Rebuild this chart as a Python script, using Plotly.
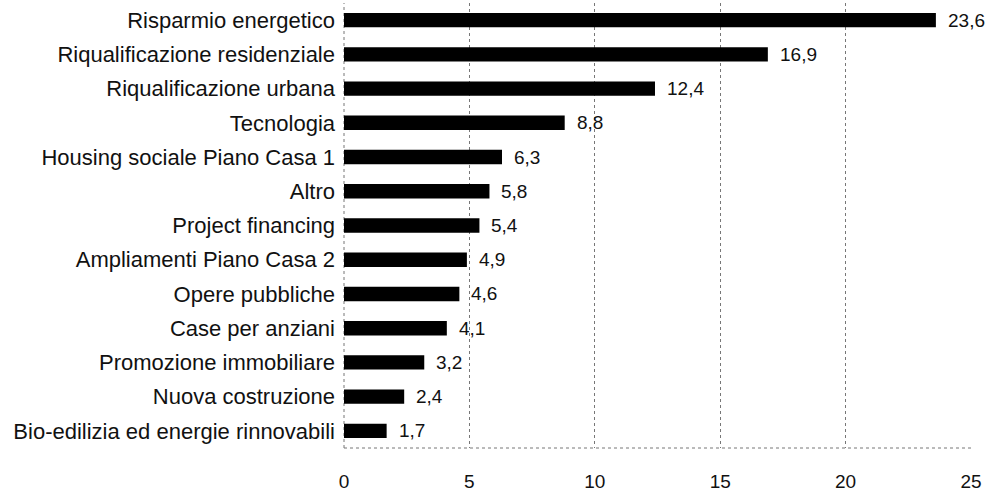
import plotly.graph_objects as go

categories = [
    "Risparmio energetico",
    "Riqualificazione residenziale",
    "Riqualificazione urbana",
    "Tecnologia",
    "Housing sociale Piano Casa 1",
    "Altro",
    "Project financing",
    "Ampliamenti Piano Casa 2",
    "Opere pubbliche",
    "Case per anziani",
    "Promozione immobiliare",
    "Nuova costruzione",
    "Bio-edilizia ed energie rinnovabili",
]
values = [23.6, 16.9, 12.4, 8.8, 6.3, 5.8, 5.4, 4.9, 4.6, 4.1, 3.2, 2.4, 1.7]
tick_vals = [0, 5, 10, 15, 20, 25]

labels = [f"{v:.1f}".replace(".", ",") for v in values]
FONT = "Liberation Sans, Arial, sans-serif"

fig = go.Figure(go.Bar(
    x=values,
    y=categories,
    orientation="h",
    marker=dict(color="#000000", line=dict(width=0)),
    width=0.42,
    hoverinfo="x+y",
))

for v, c, t in zip(values, categories, labels):
    fig.add_annotation(
        x=v, y=c, text=t, showarrow=False,
        xanchor="left", yanchor="middle", xshift=10,
        font=dict(size=19, color="#111111", family=FONT),
    )

# dotted bottom and left axis lines
fig.add_shape(type="line", xref="paper", yref="paper", x0=0, x1=1, y0=0, y1=0,
              line=dict(color="#777777", width=1, dash="dot"))
fig.add_shape(type="line", xref="paper", yref="paper", x0=0, x1=0, y0=0, y1=1,
              line=dict(color="#777777", width=1, dash="dot"), layer="below")

fig.update_layout(
    width=998, height=494,
    margin=dict(l=344, r=27, t=3, b=46),
    paper_bgcolor="white",
    plot_bgcolor="white",
    showlegend=False,
    font=dict(family=FONT, color="#111111"),
)
fig.update_xaxes(
    range=[0, 25],
    tickvals=tick_vals,
    ticktext=[str(t) for t in tick_vals],
    tickfont=dict(size=19),
    showgrid=True, gridcolor="#777777", griddash="dot", gridwidth=1,
    zeroline=False,
    showline=False,
    ticks="", ticklabelstandoff=20,
)
fig.update_yaxes(
    range=[12.5, -0.5],
    tickfont=dict(size=22),
    showgrid=False,
    showline=False,
    zeroline=False,
    ticks="", ticklabelstandoff=8,
)

fig.write_html("out.html", config={"displayModeBar": False},
               post_script="document.body.style.margin='0';")
